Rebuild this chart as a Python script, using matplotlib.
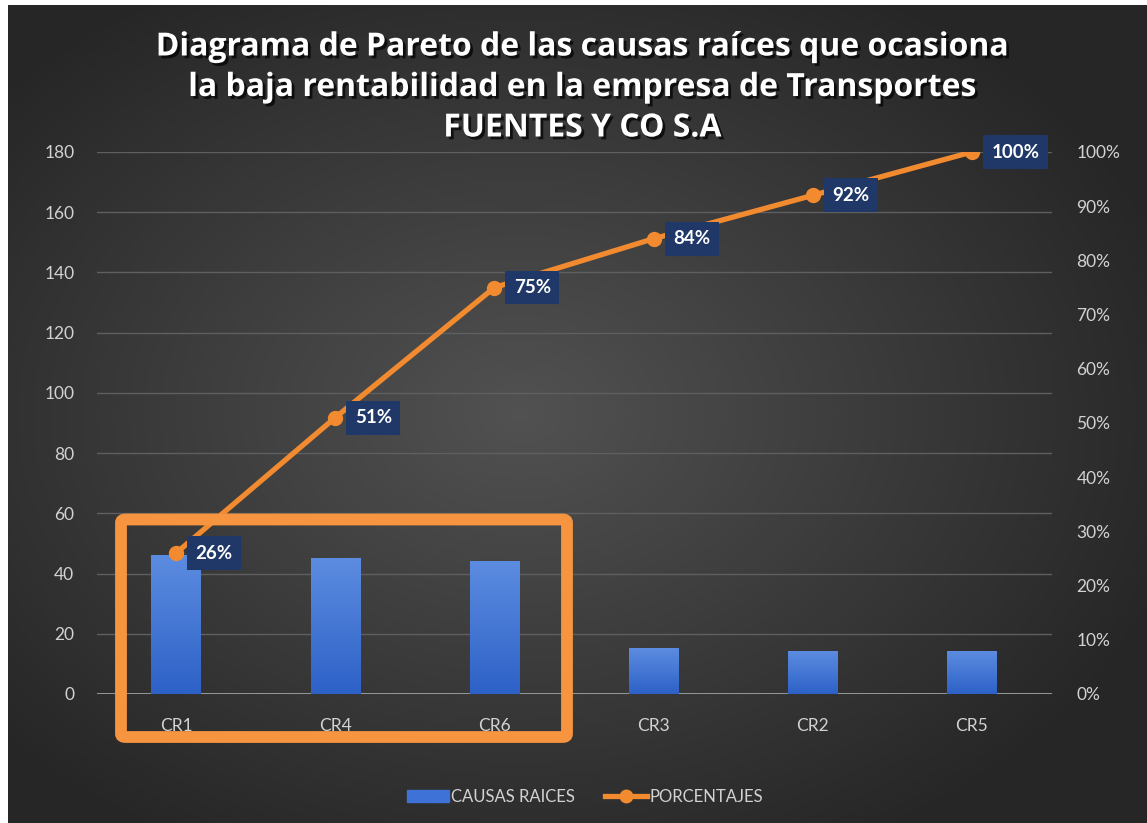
import numpy as np
import matplotlib
matplotlib.use("Agg")
import matplotlib.pyplot as plt
import matplotlib.patheffects as pe
from matplotlib.patches import FancyBboxPatch, Patch
from matplotlib.lines import Line2D

categories = ["CR1", "CR4", "CR6", "CR3", "CR2", "CR5"]
causas = [46, 45, 44, 15, 14, 14]
porcentajes = [26, 51, 75, 84, 92, 100]
left_ticks = [0, 20, 40, 60, 80, 100, 120, 140, 160, 180]
right_ticks = [0, 10, 20, 30, 40, 50, 60, 70, 80, 90, 100]
title_lines = ["Diagrama de Pareto de las causas raíces que ocasiona",
               "la baja rentabilidad en la empresa de Transportes",
               "FUENTES Y CO S.A"]

W, H = 1147, 823
fig = plt.figure(figsize=(W / 100, H / 100), dpi=100, facecolor="white")

# background with radial gradient
bg = fig.add_axes([8 / W, 0, 1 - 8 / W, 1 - 5 / H], zorder=-10)
yy, xx = np.mgrid[0:1:300j, 0:1:400j]
r = np.sqrt(((xx - 0.45) / 0.75) ** 2 + ((yy - 0.5) / 0.75) ** 2)
val = np.clip(0.32 - 0.21 * r, 0.15, 0.34)
bg.imshow(np.dstack([val, val, val]), aspect="auto", extent=[0, 1, 0, 1], interpolation="bicubic")
bg.set_axis_off()

ax = fig.add_axes([96.5 / W, 1 - 694 / H, 955 / W, 542 / H])
ax.patch.set_alpha(0)
x = np.arange(len(categories))
bars = ax.bar(x, causas, width=0.31, color="#3f72d6", zorder=3)
# gradient fill for bars
grad = np.linspace(0, 1, 100).reshape(-1, 1)
top_c = np.array([0.36, 0.55, 0.88])
bot_c = np.array([0.18, 0.38, 0.78])
img = grad[..., None] * top_c + (1 - grad[..., None]) * bot_c
for b in bars:
    b.set_alpha(0)
    ax.imshow(img, extent=[b.get_x(), b.get_x() + b.get_width(), 0, b.get_height()],
              origin="lower", aspect="auto", zorder=3)
ax.set_xlim(-0.5, len(categories) - 0.5)
ax.set_ylim(0, 180)
ax.set_yticks(left_ticks)
ax.set_xticks(x)
ax.set_xticklabels(categories)
for s in ax.spines.values():
    s.set_visible(False)
ax.grid(axis="y", color="#5f5f5f", linewidth=1.0, zorder=0)
ax.axhline(0, color="#a0a0a0", linewidth=2, zorder=2)
ax.tick_params(axis="both", length=0, labelcolor="#d2d2d2", labelsize=12.5)
ax.tick_params(axis="y", pad=16)
ax.tick_params(axis="x", pad=17)
for lab in ax.get_xticklabels() + ax.get_yticklabels():
    lab.set_family("Lato")

ax2 = ax.twinx()
ax2.set_ylim(0, 100)
ax2.set_yticks(right_ticks)
ax2.set_yticklabels([f"{t}%" for t in right_ticks])
for s in ax2.spines.values():
    s.set_visible(False)
ax2.tick_params(axis="y", length=0, labelcolor="#d2d2d2", labelsize=12.5, pad=18)
for lab in ax2.get_yticklabels():
    lab.set_family("Lato")
orange = "#f28a30"
ax2.plot(x, porcentajes, color=orange, linewidth=3.8, marker="o", markersize=10, zorder=5)
ax2.set_xlim(-0.5, len(categories) - 0.5)
for xi, p in zip(x, porcentajes):
    ax2.annotate(f"{p}%", (xi, p), xytext=(14, 0), textcoords="offset points",
                 ha="left", va="center", color="white", fontsize=13.5, fontweight="bold",
                 family="Lato",
                 bbox=dict(boxstyle="square,pad=0.45", fc="#1f3868", ec="none"), zorder=6)

# title
for i, line in enumerate(title_lines):
    fig.text(583 / W, 1 - (47 + 40.5 * i) / H, line, ha="center", va="center",
             color="white", fontsize=23, fontweight="bold", family="Open Sans",
             path_effects=[pe.withSimplePatchShadow(offset=(2, -2), shadow_rgbFace="black", alpha=0.7)])

# orange highlight box
box = FancyBboxPatch((121 / W, 1 - 737 / H), (567 - 121) / W, (737 - 519.5) / H,
                     boxstyle="round,pad=0,rounding_size=0.004", transform=fig.transFigure,
                     fill=False, ec="#f7943f", lw=8.5, zorder=20)
fig.add_artist(box)

handles = [Patch(color="#3f72d6"),
           Line2D([0], [0], color=orange, lw=3.8, marker="o", markersize=9)]
leg = fig.legend(handles, ["CAUSAS RAICES", "PORCENTAJES"], loc="center",
                 bbox_to_anchor=(585 / W, 1 - 797 / H), ncol=2, frameon=False,
                 handlelength=2.5, handletextpad=0.15, columnspacing=1.8,
                 prop={"family": "Lato", "size": 12})
for t in leg.get_texts():
    t.set_color("#d2d2d2")

fig.savefig("out.png", dpi=100, facecolor="white")
